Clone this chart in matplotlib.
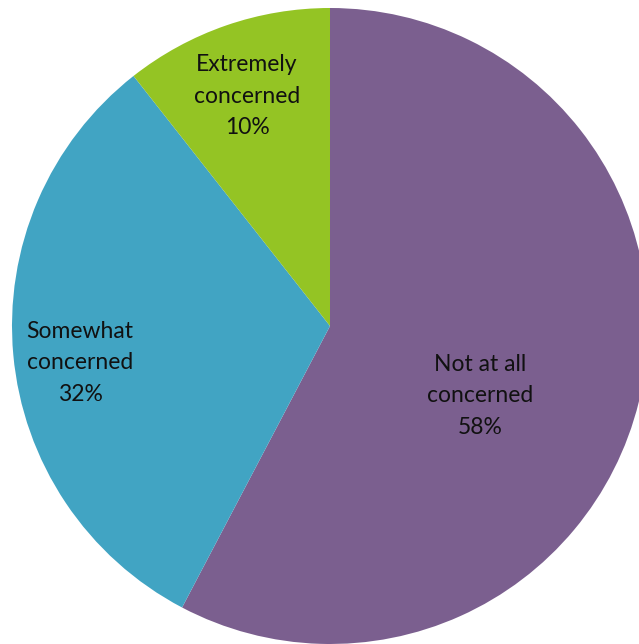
import matplotlib
matplotlib.use("Agg")
import matplotlib.pyplot as plt

# Data (wedge sizes, labels as printed)
labels = ["Not at all\nconcerned", "Somewhat\nconcerned", "Extremely\nconcerned"]
values = [57.7, 31.7, 10.6]
pct_labels = ["58%", "32%", "10%"]
colors = ["#7B5F8F", "#41A4C3", "#94C424"]

# label positions (data units, radius = 1)
label_pos = [(0.472, -0.22), (-0.786, -0.116), (-0.261, 0.723)]

plt.rcParams['font.family'] = ['Lato', 'DejaVu Sans']

fig = plt.figure(figsize=(6.39, 6.44), dpi=100)
ax = fig.add_axes([0, 0, 1, 1])

wedges, _ = ax.pie(values, colors=colors, startangle=90, counterclock=False,
                   radius=1.0, wedgeprops=dict(linewidth=0))

for lab, pct, (x, y) in zip(labels, pct_labels, label_pos):
    ax.text(x, y, f"{lab}\n{pct}", ha='center', va='center',
            fontsize=16.5, linespacing=1.6, color='#111111')

ax.set_xlim(-330 / 318, (639 - 330) / 318)
ax.set_ylim(-318 / 318, 326 / 318)
ax.set_aspect('auto')
ax.axis('off')

fig.savefig("out.png", dpi=100)
